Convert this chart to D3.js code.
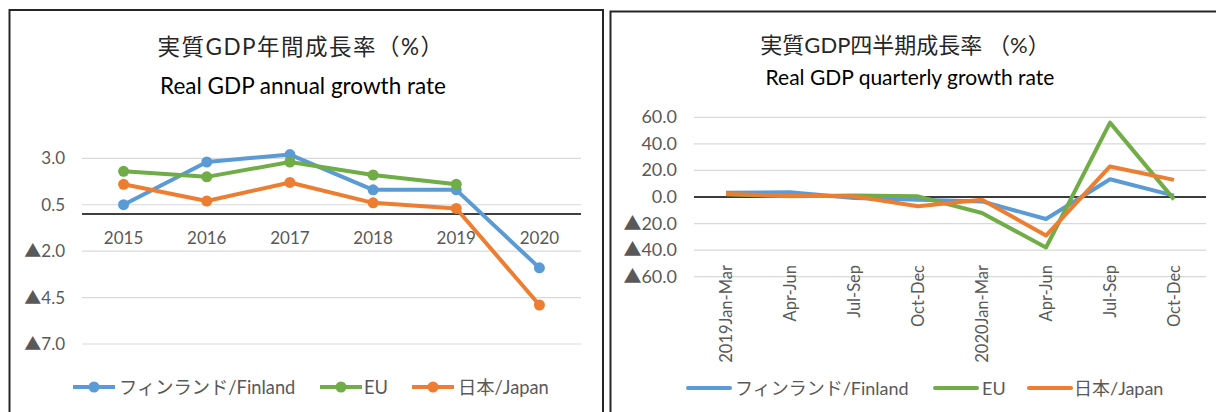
<!DOCTYPE html>
<html>
<head>
<meta charset="utf-8">
<script src="https://cdn.jsdelivr.net/npm/d3@7"></script>
<style>
  body { margin: 0; background: #fff; }
  svg { display: block; font-family: Lato, "Noto Sans CJK JP", sans-serif; }
</style>
</head>
<body>
<svg id="chart" width="1216" height="412"></svg>
<script>
// annual chart data
const years = ['2015', '2016', '2017', '2018', '2019', '2020'];
const finlandAnnual = [0.5, 2.8, 3.2, 1.3, 1.3, -2.9];
const euAnnual = [2.3, 2.0, 2.8, 2.1, 1.6, null];
const japanAnnual = [1.6, 0.7, 1.7, 0.6, 0.3, -4.9];
const annualTicks = [3.0, 0.5, -2.0, -4.5, -7.0];

// quarterly chart data
const quarters = ['2019Jan-Mar', 'Apr-Jun', 'Jul-Sep', 'Oct-Dec', '2020Jan-Mar', 'Apr-Jun', 'Jul-Sep', 'Oct-Dec'];
const finlandQuarter = [3.2, 3.5, -0.8, -2.0, -3.3, -16.6, 13.4, 1.0];
const euQuarter = [2.0, 0.5, 1.2, 0.5, -12.0, -38.0, 56.0, -1.8];
const japanQuarter = [2.2, 1.0, 0.5, -7.0, -2.0, -29.0, 23.0, 12.9];
const quarterTicks = [60, 40, 20, 0, -20, -40, -60];

const seriesNames = ['フィンランド/Finland', 'EU', '日本/Japan'];
const colors = ['#5b9bd5', '#70ad47', '#ed7d31'];

const svg = d3.select('#chart');
const fmt = v => (v < 0 ? '▲' : '') + Math.abs(v).toFixed(1);

// panel borders
svg.append('rect').attr('x', 9.5).attr('y', 10).attr('width', 593.5).attr('height', 440)
  .attr('fill', 'none').attr('stroke', '#262626').attr('stroke-width', 2);
svg.append('rect').attr('x', 610.5).attr('y', 11.5).attr('width', 640).attr('height', 440)
  .attr('fill', 'none').attr('stroke', '#262626').attr('stroke-width', 2);

// ---------- left: annual ----------
const left = svg.append('g');
const x1 = d3.scaleBand().domain(years).range([82, 581]);
const y1 = d3.scaleLinear().domain([-7, 3]).range([344, 158.3]);
const cx1 = d => x1(d) + x1.bandwidth() / 2;

left.append('text').attr('x', 301).attr('y', 55).attr('text-anchor', 'middle')
  .attr('font-size', 22.5).attr('letter-spacing', 1.5).attr('fill', '#262626')
  .text('実質GDP年間成長率（%）');
left.append('text').attr('x', 303).attr('y', 94).attr('text-anchor', 'middle')
  .attr('font-size', 22.5).attr('fill', '#000').text('Real GDP annual growth rate');

left.append('g').selectAll('line').data(annualTicks).join('line')
  .attr('x1', 82).attr('x2', 581).attr('y1', d => y1(d)).attr('y2', d => y1(d))
  .attr('stroke', '#d9d9d9').attr('stroke-width', 1.2);
left.append('g').selectAll('text').data(annualTicks).join('text')
  .attr('x', 65).attr('y', d => y1(d) + 6).attr('text-anchor', 'end')
  .attr('font-size', 17).attr('fill', '#595959').text(fmt);
left.append('line').attr('x1', 82).attr('x2', 581).attr('y1', y1(0)).attr('y2', y1(0))
  .attr('stroke', '#000').attr('stroke-width', 1.5);
left.append('g').selectAll('text').data(years).join('text')
  .attr('x', d => cx1(d)).attr('y', 244).attr('text-anchor', 'middle')
  .attr('font-size', 17).attr('fill', '#595959').text(d => d);

[finlandAnnual, euAnnual, japanAnnual].forEach((vals, i) => {
  const pts = years.map((d, j) => [d, vals[j]]).filter(p => p[1] !== null);
  left.append('path').datum(pts)
    .attr('d', d3.line().x(p => cx1(p[0])).y(p => y1(p[1])))
    .attr('fill', 'none').attr('stroke', colors[i]).attr('stroke-width', 4)
    .attr('stroke-linejoin', 'round');
  left.append('g').selectAll('circle').data(pts).join('circle')
    .attr('cx', p => cx1(p[0])).attr('cy', p => y1(p[1])).attr('r', 5.5)
    .attr('fill', colors[i]);
});

const legend1 = [[73, 119], [320, 364], [412, 458]];
legend1.forEach(([lx, tx], i) => {
  left.append('line').attr('x1', lx).attr('x2', lx + 42).attr('y1', 387).attr('y2', 387)
    .attr('stroke', colors[i]).attr('stroke-width', 4);
  left.append('circle').attr('cx', lx + 21).attr('cy', 387).attr('r', 5.5).attr('fill', colors[i]);
  left.append('text').attr('x', tx).attr('y', 394).attr('font-size', 18.3)
    .attr('fill', '#595959').text(seriesNames[i]);
});

// ---------- right: quarterly ----------
const right = svg.append('g');
const qIdx = quarters.map((d, i) => i);
const x2 = d3.scaleBand().domain(qIdx).range([694, 1206]);
const y2 = d3.scaleLinear().domain([-60, 60]).range([276.7, 117.3]);
const cx2 = i => x2(i) + x2.bandwidth() / 2;

right.append('text').attr('x', 905).attr('y', 53).attr('text-anchor', 'middle')
  .attr('font-size', 22).attr('fill', '#262626').text('実質GDP四半期成長率 （%）');
right.append('text').attr('x', 910).attr('y', 85).attr('text-anchor', 'middle')
  .attr('font-size', 21).attr('fill', '#000').text('Real GDP quarterly growth rate');

right.append('g').selectAll('line').data(quarterTicks).join('line')
  .attr('x1', 694).attr('x2', 1206).attr('y1', d => y2(d)).attr('y2', d => y2(d))
  .attr('stroke', '#d9d9d9').attr('stroke-width', 1.2);
right.append('g').selectAll('text').data(quarterTicks).join('text')
  .attr('x', 677).attr('y', d => y2(d) + 6).attr('text-anchor', 'end')
  .attr('font-size', 18).attr('fill', '#595959').text(fmt);
right.append('line').attr('x1', 694).attr('x2', 1206).attr('y1', y2(0)).attr('y2', y2(0))
  .attr('stroke', '#000').attr('stroke-width', 1.5);
right.append('g').selectAll('text').data(qIdx).join('text')
  .attr('transform', i => `translate(${cx2(i) + 6},265) rotate(-90)`)
  .attr('text-anchor', 'end').attr('font-size', 16.5).attr('fill', '#595959')
  .text(i => quarters[i]);

[finlandQuarter, euQuarter, japanQuarter].forEach((vals, i) => {
  right.append('path').datum(vals)
    .attr('d', d3.line().x((v, j) => cx2(j)).y(v => y2(v)))
    .attr('fill', 'none').attr('stroke', colors[i]).attr('stroke-width', 4)
    .attr('stroke-linejoin', 'round');
});

const legend2 = [[688, 735], [935, 982], [1029, 1074]];
legend2.forEach(([lx, tx], i) => {
  right.append('line').attr('x1', lx).attr('x2', lx + 42).attr('y1', 388).attr('y2', 388)
    .attr('stroke', colors[i]).attr('stroke-width', 4).attr('stroke-linecap', 'round');
  right.append('text').attr('x', tx).attr('y', 395).attr('font-size', 18)
    .attr('fill', '#595959').text(seriesNames[i]);
});
</script>
</body>
</html>
